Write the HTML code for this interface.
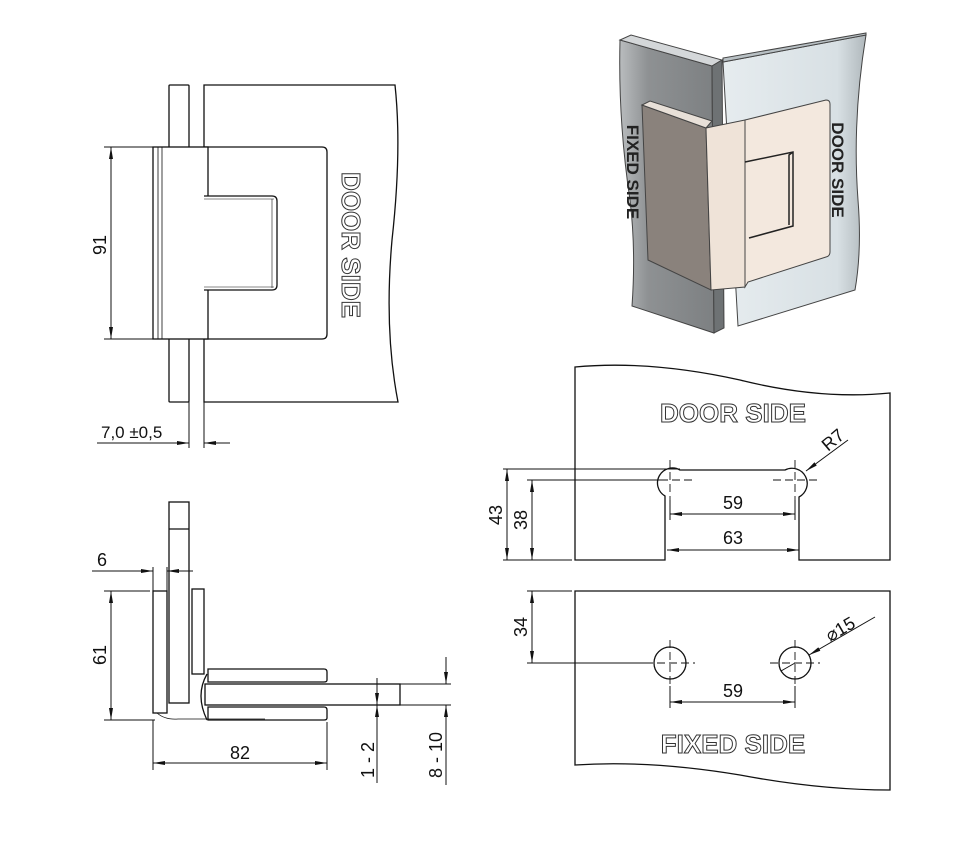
<!DOCTYPE html>
<html><head><style>body{margin:0;background:#fff}svg{display:block}</style></head><body>
<svg width="955" height="841" viewBox="0 0 955 841" xmlns="http://www.w3.org/2000/svg" font-family="Liberation Sans, sans-serif">
<defs>
<marker id="a" markerWidth="12" markerHeight="6" refX="12" refY="3" orient="auto-start-reverse" markerUnits="userSpaceOnUse"><path d="M0,1 L12,3 L0,5z" fill="#111"/></marker>
<linearGradient id="gf" x1="0" x2="1"><stop offset="0" stop-color="#b9bcbe"/><stop offset="0.3" stop-color="#8e9193"/><stop offset="1" stop-color="#7d8082"/></linearGradient>
<linearGradient id="gd" x1="0" x2="1"><stop offset="0" stop-color="#e6ecef"/><stop offset="0.8" stop-color="#d8e0e4"/><stop offset="1" stop-color="#b0b8bc"/></linearGradient>
</defs>
<g stroke="#111" stroke-width="1.3" fill="none">
<rect x="169" y="85" width="20" height="317" rx="1" fill="#fff"/>
<path d="M204,85 L395,85 Q402,150 392,240 Q384,330 398,402 L204,402 Z" fill="#fff"/>
<path d="M204,147 L322,147 Q327,147 327,152 L327,334 Q327,339 322,339 L204,339 Z" fill="#fff"/>
<rect x="153" y="147" width="55" height="192" fill="#fff"/>
<path d="M158,147 V339 M162,147 V339" stroke-width="0.8"/>
<path d="M204,196 L272,196 Q277,196 277,201 L277,285 Q277,290 272,290 L204,290" fill="#fff"/>
<path d="M204,199 H274 M272,199 V288 M204,287 H274" stroke-width="0.6"/>
</g>
<g stroke="#111" stroke-width="1" fill="none">
<path d="M104,147 H153 M104,339 H153"/>
<line x1="111" y1="147" x2="111" y2="339" marker-start="url(#a)" marker-end="url(#a)"/>
<path d="M189,402 V448 M204,402 V448"/>
<line x1="97" y1="443" x2="189" y2="443" marker-end="url(#a)"/>
<line x1="230" y1="443" x2="204" y2="443" marker-end="url(#a)"/>
</g>
<text transform="translate(106,245) rotate(-90)" font-size="18" text-anchor="middle" fill="#111">91</text>
<text x="101" y="438" font-size="17" fill="#111">7,0 ±0,5</text>
<text transform="translate(342,245) rotate(90)" font-size="26" font-weight="bold" text-anchor="middle" fill="#fff" stroke="#333" stroke-width="1">DOOR SIDE</text>

<g stroke="#111" stroke-width="1.3" fill="#fff">
<rect x="169" y="502" width="20" height="201"/>
<path d="M169,529 H189" fill="none"/>
<rect x="153" y="591" width="14" height="122"/>
<rect x="192" y="589" width="12" height="85"/>
<path d="M208,669 H324 Q327,669 327,672 V680 Q327,682 324,682 H208 Z"/>
<path d="M208,707 H324 Q327,707 327,710 V718 Q327,720 324,720 H208 Z"/>
<rect x="205" y="684" width="195" height="21"/>
<path d="M207,674 Q195,695 207,720" fill="none"/>
<path d="M157,713 Q165,720 178,719 H265" fill="none" stroke-width="0.8"/>
</g>
<g stroke="#111" stroke-width="1" fill="none">
<path d="M104,591 H150 M104,720 H155"/>
<line x1="111" y1="591" x2="111" y2="720" marker-start="url(#a)" marker-end="url(#a)"/>
<line x1="92" y1="571" x2="153" y2="571" marker-end="url(#a)"/>
<line x1="193" y1="571" x2="167" y2="571" marker-end="url(#a)"/>
<path d="M153,567 V591 M167,567 V591"/>
<path d="M153,720 V770 M327,722 V770"/>
<line x1="153" y1="763" x2="327" y2="763" marker-start="url(#a)" marker-end="url(#a)"/>
<path d="M330,705 H382 M400,684 H451 M400,705 H451"/>
<line x1="377" y1="678" x2="377" y2="705" marker-end="url(#a)"/>
<line x1="377" y1="783" x2="377" y2="705" marker-end="url(#a)" />
<line x1="446" y1="657" x2="446" y2="684" marker-end="url(#a)"/>
<line x1="446" y1="785" x2="446" y2="705" marker-end="url(#a)"/>
</g>
<text transform="translate(106,655) rotate(-90)" font-size="18" text-anchor="middle" fill="#111">61</text>
<text x="97" y="566" font-size="18" fill="#111">6</text>
<text x="240" y="759" font-size="18" text-anchor="middle" fill="#111">82</text>
<text transform="translate(374,760) rotate(-90)" font-size="18" text-anchor="middle" fill="#111">1 - 2</text>
<text transform="translate(442,755) rotate(-90)" font-size="18" text-anchor="middle" fill="#111">8 - 10</text>

<g stroke="#444" stroke-width="1">
<path d="M620,40 L712,66 L714,333 L632,306 Q636,250 630,200 Q618,120 620,40Z" fill="url(#gf)"/>
<path d="M620,40 L631,35 L722,60 L712,66Z" fill="#d4d7d9"/>
<path d="M712,66 L722,60 L724,328 L714,333Z" fill="#6e7274"/>
<path d="M723,62 L866,35 Q852,120 858,200 Q862,250 855,290 L738,326 Z" fill="url(#gd)"/>
<path d="M723,62 L723,58 L866,33 L866,35Z" fill="#b8c0c4"/>
<path d="M642,105 L706,128 L711,290 L648,260 Z" fill="#8a827c"/>
<path d="M642,105 L650,101 L712,121 L706,128Z" fill="#e8e0d8"/>
<path d="M706,128 L745,120 L745,287 L711,290 Z" fill="#efe3d8"/>
<path d="M745,120 L826,100 Q830,100 830,104 L830,252 Q830,256 826,257 L748,282 L745,287 Z" fill="#f3e8de"/>
<path d="M745,162 L793,152 L793,226 L749,238 M793,152 L789,155 L789,225" fill="none" stroke="#222" stroke-width="1.5"/>
</g>
<text transform="translate(627,172) rotate(90)" font-size="17" font-weight="bold" text-anchor="middle" fill="#222">FIXED SIDE</text>
<text transform="translate(832,170) rotate(90)" font-size="17" font-weight="bold" text-anchor="middle" fill="#222">DOOR SIDE</text>

<g stroke="#111" stroke-width="1.3" fill="none">
<path d="M665,560 L575,560 L575,367 Q650,360 740,380 Q820,400 890,393 L890,560 L799,560 L799,497 A14,14 0 1 0 785,470 L680,470 A14,14 0 1 0 665,496 Z"/>
<path d="M575,591 H890 V790 Q820,790 740,775 Q650,760 575,765 Z"/>
<circle cx="670" cy="663" r="16"/>
<circle cx="795" cy="663" r="16"/>
</g>
<g stroke="#111" stroke-width="0.9" fill="none" stroke-dasharray="8,4">
<path d="M648,480 H692 M773,480 H817 M670,460 V500 M795,460 V500"/>
<path d="M645,663 H695 M770,663 H820 M670,640 V686 M795,640 V686"/>
</g>
<g stroke="#111" stroke-width="1" fill="none">
<path d="M670,500 V520 M795,500 V520 M670,686 V708 M795,686 V708"/>
<path d="M503,469 H680 M527,480 H660 M503,560 H572 M527,591 H572 M527,663 H650"/>
<line x1="507" y1="469" x2="507" y2="560" marker-start="url(#a)" marker-end="url(#a)"/>
<line x1="532" y1="480" x2="532" y2="560" marker-start="url(#a)" marker-end="url(#a)"/>
<line x1="532" y1="591" x2="532" y2="663" marker-start="url(#a)" marker-end="url(#a)"/>
<line x1="670" y1="514" x2="795" y2="514" marker-start="url(#a)" marker-end="url(#a)"/>
<line x1="667" y1="550" x2="799" y2="550" marker-start="url(#a)" marker-end="url(#a)"/>
<line x1="670" y1="702" x2="795" y2="702" marker-start="url(#a)" marker-end="url(#a)"/>
<line x1="848" y1="440" x2="806" y2="471" marker-end="url(#a)"/>
<line x1="875" y1="617" x2="809" y2="655" marker-end="url(#a)"/>
<line x1="795" y1="663" x2="781" y2="671"/>
</g>
<text transform="translate(502,515) rotate(-90)" font-size="18" text-anchor="middle" fill="#111">43</text>
<text transform="translate(527,520) rotate(-90)" font-size="18" text-anchor="middle" fill="#111">38</text>
<text transform="translate(527,627) rotate(-90)" font-size="18" text-anchor="middle" fill="#111">34</text>
<text x="733" y="509" font-size="18" text-anchor="middle" fill="#111">59</text>
<text x="733" y="544" font-size="18" text-anchor="middle" fill="#111">63</text>
<text x="733" y="697" font-size="18" text-anchor="middle" fill="#111">59</text>
<text transform="translate(828,452) rotate(-40)" font-size="18" fill="#111">R7</text>
<text transform="translate(830,642) rotate(-30)" font-size="18" fill="#111">⌀15</text>
<text x="733" y="422" font-size="26" font-weight="bold" text-anchor="middle" fill="#fff" stroke="#333" stroke-width="1">DOOR SIDE</text>
<text x="733" y="753" font-size="26" font-weight="bold" text-anchor="middle" fill="#fff" stroke="#333" stroke-width="1">FIXED SIDE</text>
</svg>
</body></html>
